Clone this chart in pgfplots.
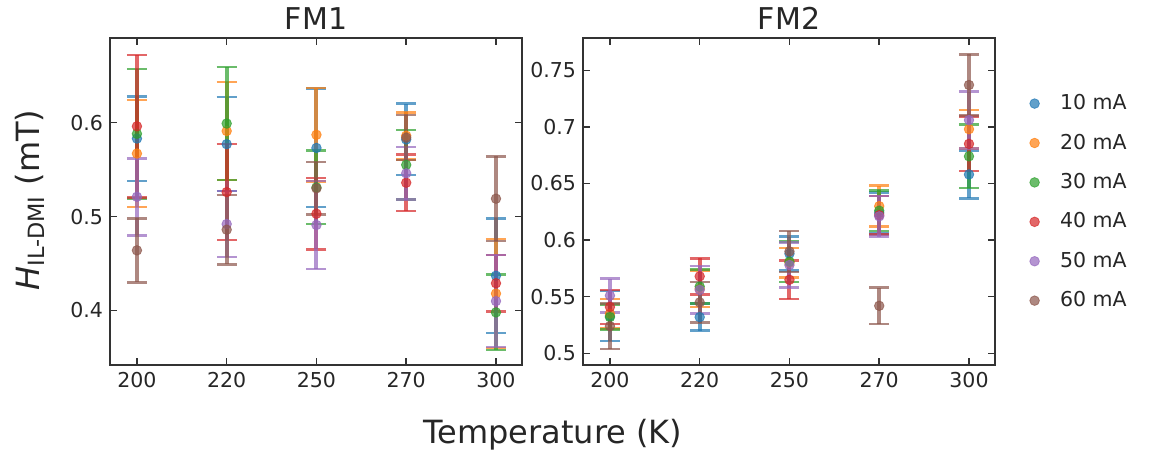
\documentclass[border=0pt]{standalone}
\usepackage{fontspec}
\setmainfont{DejaVu Sans}
\usepackage{pgfplots}
\pgfplotsset{compat=1.18}

\definecolor{c1}{HTML}{1F77B4}
\definecolor{c2}{HTML}{FF7F0E}
\definecolor{c3}{HTML}{2CA02C}
\definecolor{c4}{HTML}{D62728}
\definecolor{c5}{HTML}{9467BD}
\definecolor{c6}{HTML}{8C564B}

\pgfplotsset{
  fm/.style={
    scale only axis, width=206pt, height=163.5pt,
    xmin=-0.3, xmax=4.29,
    xtick={0,...,4}, xticklabels={200,220,250,270,300},
    tick align=inside, major tick length=3.5pt,
    axis line style={black!80, line width=0.75pt},
    major tick style={black!80, line width=0.75pt},
    tick label style={font=\fontsize{10.25}{12}\selectfont, text=black!85},
    title style={font=\fontsize{15}{18}\selectfont, text=black!85, yshift=-5.5pt},
    /pgf/number format/assume math mode=true,
    anchor=south west,
  },
  ser/.style={color=#1, only marks, mark=*, mark size=2.4pt,
    mark options={line width=0.4pt, draw opacity=0.7, fill opacity=0.7},
    error bars/.cd, y dir=both, y explicit,
    error bar style={line width=2pt, opacity=0.7},
    error mark options={rotate=90, mark size=5pt, line width=1.3pt, opacity=0.7}},
}

\begin{document}
\begin{tikzpicture}
\useasboundingbox (0,0) rectangle (579.5pt,-227.5pt);

% FM1
\begin{axis}[fm, at={(55pt,-182.5pt)}, title={FM1},
  ymin=0.342, ymax=0.690, ytick={0.4,0.5,0.6}, yticklabels={0.4,0.5,0.6}]
\addplot[ser=c1] coordinates {(0,0.583) +- (0,0.045) (1,0.577) +- (0,0.050) (2,0.573) +- (0,0.063) (3,0.582) +- (0,0.038) (4,0.437) +- (0,0.061)};
\addplot[ser=c2] coordinates {(0,0.567) +- (0,0.057) (1,0.591) +- (0,0.052) (2,0.587) +- (0,0.050) (3,0.586) +- (0,0.025) (4,0.418) +- (0,0.058)};
\addplot[ser=c3] coordinates {(0,0.588) +- (0,0.069) (1,0.599) +- (0,0.060) (2,0.531) +- (0,0.039) (3,0.555) +- (0,0.037) (4,0.398) +- (0,0.040)};
\addplot[ser=c4] coordinates {(0,0.596) +- (0,0.076) (1,0.526) +- (0,0.051) (2,0.503) +- (0,0.038) (3,0.536) +- (0,0.030) (4,0.429) +- (0,0.030)};
\addplot[ser=c5] coordinates {(0,0.521) +- (0,0.041) (1,0.492) +- (0,0.035) (2,0.491) +- (0,0.047) (3,0.546) +- (0,0.028) (4,0.410) +- (0,0.049)};
\addplot[ser=c6] coordinates {(0,0.464) +- (0,0.034) (1,0.486) +- (0,0.037) (2,0.530) +- (0,0.028) (3,0.584) +- (0,0.024) (4,0.519) +- (0,0.045)};
\end{axis}

% FM2
\begin{axis}[fm, at={(291.5pt,-182.5pt)}, title={FM2},
  ymin=0.4897, ymax=0.7785, ytick={0.5,0.55,0.6,0.65,0.7,0.75},
  yticklabels={0.5,0.55,0.6,0.65,0.7,0.75},
  legend style={draw=none, fill=none, at={(1.065,0.853)}, anchor=north west,
    font=\fontsize{10.25}{12}\selectfont, text=black!85, row sep=6.6pt},
  legend image code/.code={\draw[#1] plot coordinates {(0pt,0pt)}; \path (-3pt,0pt) (10.5pt,0pt);},
  legend cell align=left]
\addplot[ser=c1] coordinates {(0,0.533) +- (0,0.022) (1,0.532) +- (0,0.012) (2,0.588) +- (0,0.015) (3,0.624) +- (0,0.018) (4,0.658) +- (0,0.021)};
\addlegendentry{10 mA}
\addplot[ser=c2] coordinates {(0,0.535) +- (0,0.013) (1,0.557) +- (0,0.016) (2,0.580) +- (0,0.013) (3,0.630) +- (0,0.018) (4,0.698) +- (0,0.017)};
\addlegendentry{20 mA}
\addplot[ser=c3] coordinates {(0,0.532) +- (0,0.011) (1,0.559) +- (0,0.015) (2,0.581) +- (0,0.018) (3,0.626) +- (0,0.018) (4,0.674) +- (0,0.028)};
\addlegendentry{30 mA}
\addplot[ser=c4] coordinates {(0,0.541) +- (0,0.015) (1,0.568) +- (0,0.016) (2,0.565) +- (0,0.017) (3,0.622) +- (0,0.017) (4,0.685) +- (0,0.024)};
\addlegendentry{40 mA}
\addplot[ser=c5] coordinates {(0,0.551) +- (0,0.015) (1,0.556) +- (0,0.021) (2,0.578) +- (0,0.020) (3,0.621) +- (0,0.018) (4,0.706) +- (0,0.025)};
\addlegendentry{50 mA}
\addplot[ser=c6] coordinates {(0,0.524) +- (0,0.020) (1,0.545) +- (0,0.018) (2,0.590) +- (0,0.018) (3,0.542) +- (0,0.016) (4,0.737) +- (0,0.027)};
\addlegendentry{60 mA}
\end{axis}

\node[rotate=90, text=black!85, font=\fontsize{16}{19}\selectfont] at (15pt,-100pt)
  {\textit{H}\textsubscript{IL-DMI} (mT)};
\node[text=black!85, font=\fontsize{16}{19}\selectfont] at (276.5pt,-217.5pt) {Temperature (K)};
\end{tikzpicture}
\end{document}
